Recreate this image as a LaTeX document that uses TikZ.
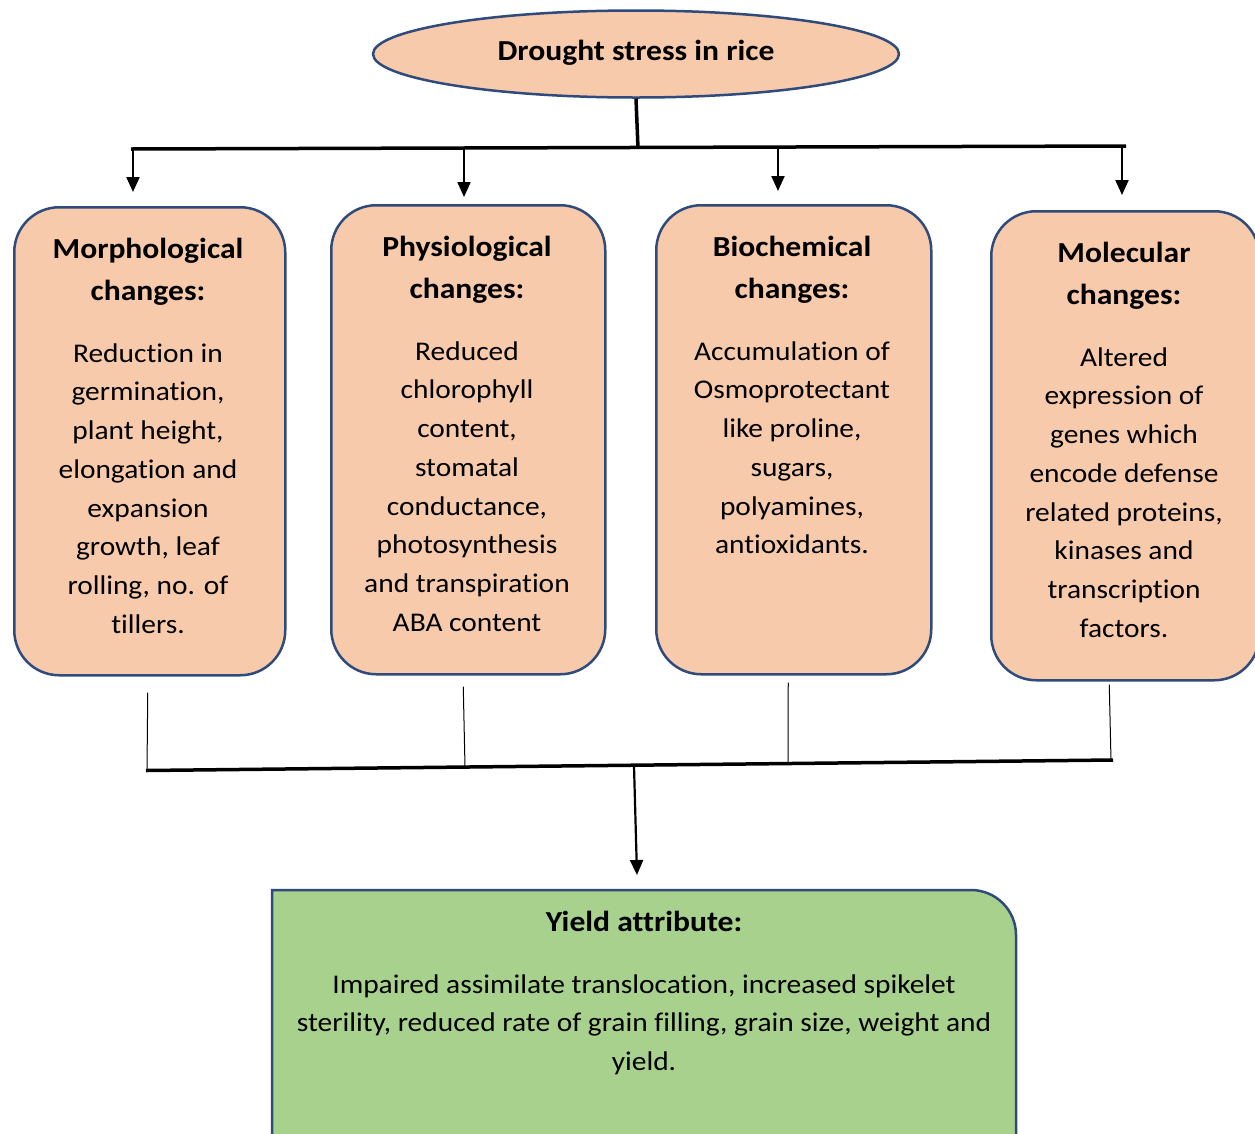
\documentclass[tikz,border=0pt]{standalone}
\usepackage{fontspec}
\setmainfont{Carlito}[FakeStretch=1.09, RawFeature=-liga]
\usetikzlibrary{arrows.meta,shapes.geometric}
\definecolor{peach}{HTML}{F7CAAC}
\definecolor{edgeblue}{HTML}{2F4B7C}
\definecolor{leaf}{HTML}{A9D18E}
\begin{document}
\begin{tikzpicture}[x=1pt,y=-1pt,
  box/.style={draw=edgeblue, line width=2.5pt, fill=peach, rounded corners=45pt, anchor=north west, inner sep=0pt},
  head/.style={anchor=north, align=center, inner sep=0pt, font=\bfseries\fontsize{29}{42}\selectfont},
  body/.style={anchor=north, align=center, inner sep=0pt, font=\fontsize{27}{38.7}\selectfont},
  bar/.style={line width=3.5pt},
  thinline/.style={line width=1pt},
  arr/.style={line width=2.2pt, -{Triangle[length=15pt,width=13pt]}}]
\useasboundingbox (0,0) rectangle (1255,1133);

% top ellipse
\node[ellipse, draw=edgeblue, line width=2.5pt, fill=peach, minimum width=526pt, minimum height=87pt, inner sep=0pt] (top) at (636,54) {};
\node[anchor=north, inner sep=0pt, font=\bfseries\fontsize{29}{42}\selectfont] (toptxt) at (636,31) {\strut Drought stress in rice};

% boxes
\node[box, minimum width=271pt, minimum height=468pt] (m) at (13,206) {};
\node[box, minimum width=274pt, minimum height=469pt] (p) at (330,204) {};
\node[box, minimum width=275pt, minimum height=469pt] (b) at (655,204) {};
\node[box, minimum width=268pt, minimum height=469pt] (mo) at (990,210) {};

% headings
\node[head] (mh) at (148,228.6) {\strut Morphological\\changes:};
\node[head] (ph) at (467,226.6) {\strut Physiological\\changes:};
\node[head] (bh) at (792,226.6) {\strut Biochemical\\changes:};
\node[head] (moh) at (1124,232.6) {\strut Molecular\\changes:};

% bodies
\node[body] (mb) at (148,334.9) {\strut Reduction in\\germination,\\plant height,\\elongation and\\expansion\\growth, leaf\\rolling, no. of\\tillers.};
\node[body] (pb) at (467,332.9) {\strut Reduced\\chlorophyll\\content,\\stomatal\\conductance,\\photosynthesis\\and transpiration\\ABA content};
\node[body] (bb) at (792,332.9) {\strut Accumulation of\\Osmoprotectant\\like proline,\\sugars,\\polyamines,\\antioxidants.};
\node[body] (mob) at (1124,338.9) {\strut Altered\\expression of\\genes which\\encode defense\\related proteins,\\kinases and\\transcription\\factors.};

% top connectors
\coordinate (t0) at (638,148);
\coordinate (tl) at (131,149);
\coordinate (tr) at (1126,146);
\coordinate (t1) at (133,149);
\coordinate (t2) at (464,148.5);
\coordinate (t3) at (778,147.5);
\coordinate (t4) at (1122,146.5);
\draw[bar] (top.south) -- (t0);
\draw[bar] (tl) -- (tr);
\draw[arr] (t1) -- ([yshift=14pt]m.north -| t1);
\draw[arr] (t2) -- ([yshift=7pt]p.north -| t2);
\draw[arr] (t3) -- ([yshift=13pt]b.north -| t3);
\draw[arr] (t4) -- ([yshift=15pt]mo.north -| t4);

% bottom connectors
\coordinate (u1) at (147,770);
\coordinate (u2) at (465,767);
\coordinate (u3) at (788,763.5);
\coordinate (u4) at (1111,760.5);
\coordinate (ul) at (146,770.5);
\coordinate (ur) at (1113,760);
\coordinate (um) at (634,766);
\coordinate (yt) at (637,875);
\draw[thinline] ([yshift=-16pt,xshift=-2pt]m.south) -- (u1);
\draw[thinline] ([yshift=-11pt,xshift=-5pt]p.south) -- (u2);
\draw[thinline] ([yshift=-7pt,xshift=-5.5pt]b.south) -- (u3);
\draw[thinline] ([yshift=-3pt,xshift=-16pt]mo.south) -- (u4);
\draw[bar] (ul) -- (ur);
\draw[arr] (um) -- (yt);

% yield box
\draw[draw=edgeblue, line width=2.5pt, fill=leaf] (272,1150) -- (272,890) -- (971,890) arc[start angle=90, end angle=0, radius=45pt] -- (1016,1150);
\node[anchor=north, inner sep=0pt, font=\bfseries\fontsize{29}{42}\selectfont] (yh) at (644,901.6) {\strut Yield attribute:};
\node[body] (yb) at (644,965.9) {\strut Impaired assimilate translocation, increased spikelet\\sterility, reduced rate of grain filling, grain size, weight and\\yield.};
\end{tikzpicture}
\end{document}
